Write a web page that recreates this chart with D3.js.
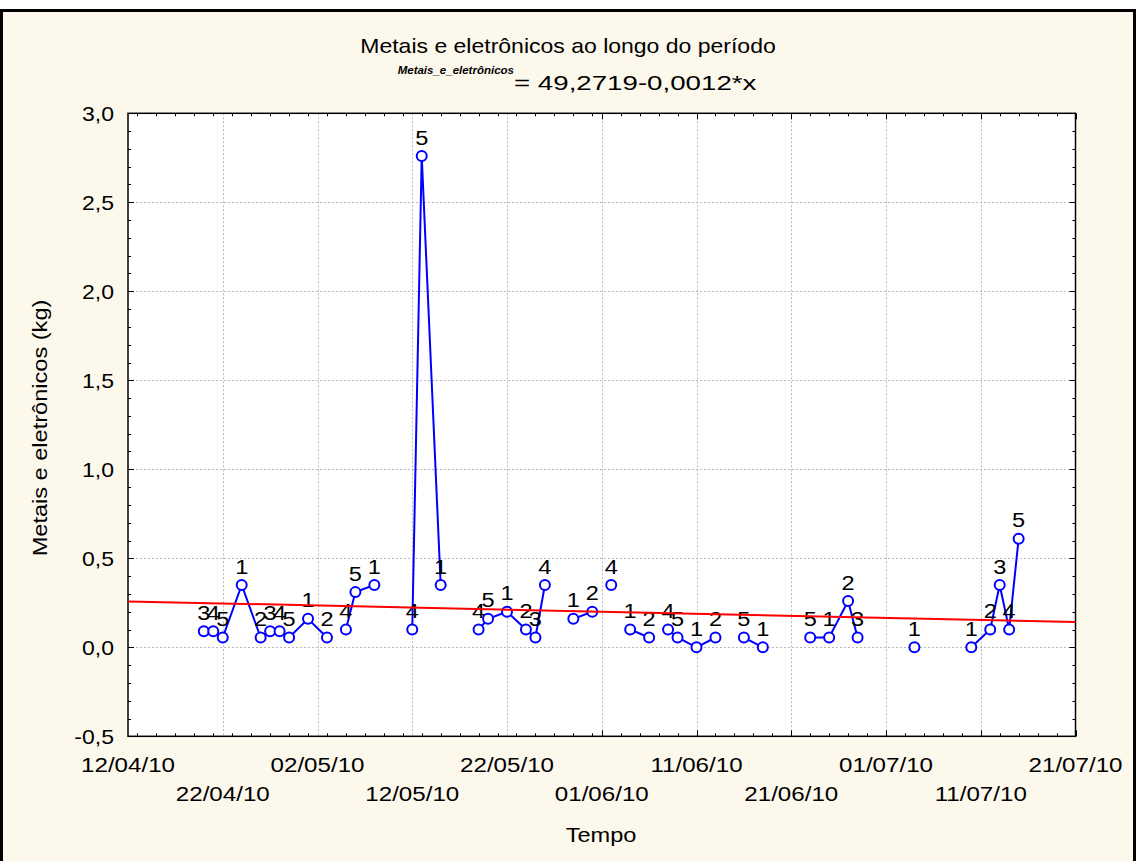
<!DOCTYPE html>
<html>
<head>
<meta charset="utf-8">
<script src="https://cdn.jsdelivr.net/npm/d3@7"></script>
<style>
  html, body { margin: 0; padding: 0; background: #ffffff; }
  svg { display: block; }
  text { font-family: "Liberation Sans", Arial, sans-serif; fill: #000; }
</style>
</head>
<body>
<svg id="chart" width="1136" height="861"></svg>
<script>
// ---------------- data ----------------
const titleText = "Metais e eletrônicos ao longo do período";
const eqVarName = "Metais_e_eletrônicos";
const eqText = "= 49,2719-0,0012*x";
const xAxisTitle = "Tempo";
const yAxisTitle = "Metais e eletrônicos (kg)";

// observation dates (dd/mm/yy)
const dates = [
  "20/04/10","21/04/10","22/04/10","24/04/10","26/04/10","27/04/10","28/04/10","29/04/10","01/05/10","03/05/10",
  "05/05/10","06/05/10","08/05/10",
  "12/05/10","13/05/10","15/05/10",
  "19/05/10","20/05/10","22/05/10","24/05/10","25/05/10","26/05/10",
  "29/05/10","31/05/10",
  "02/06/10",
  "04/06/10","06/06/10",
  "08/06/10","09/06/10","11/06/10","13/06/10",
  "16/06/10","18/06/10",
  "23/06/10","25/06/10","27/06/10","28/06/10",
  "04/07/10",
  "10/07/10","12/07/10","13/07/10","14/07/10","15/07/10"
];
// mass (kg)
const values = [
  0.09,0.09,0.055,0.35,0.055,0.09,0.09,0.055,0.16,0.055,
  0.10,0.31,0.35,
  0.10,2.76,0.35,
  0.10,0.16,0.20,0.10,0.055,0.35,
  0.16,0.20,
  0.35,
  0.10,0.055,
  0.10,0.055,0.0,0.055,
  0.055,0.0,
  0.055,0.055,0.26,0.055,
  0.0,
  0.0,0.10,0.35,0.10,0.61
];
// point labels
const pointLabels = [
  "3","4","5","1","2","3","4","5","1","2",
  "4","5","1",
  "4","5","1",
  "4","5","1","2","3","4",
  "1","2",
  "4",
  "1","2",
  "4","5","1","2",
  "5","1",
  "5","1","2","3",
  "1",
  "1","2","3","4","5"
];
// connected runs (line breaks where observations are missing)
const runs = [
  0,0,0,0,0,0,0,0,0,0,
  1,1,1,
  2,2,2,
  3,3,3,3,3,3,
  4,4,
  5,
  6,6,
  7,7,7,7,
  8,8,
  9,9,9,9,
  10,
  11,11,11,11,11
];
// fitted regression line values at the axis start / end
const fitDates = ["12/04/10","21/07/10"];
const fitValues = [0.258, 0.142];

const xTickLabels = ["12/04/10","22/04/10","02/05/10","12/05/10","22/05/10","01/06/10",
                     "11/06/10","21/06/10","01/07/10","11/07/10","21/07/10"];
const yTickValues = [-0.5,0.0,0.5,1.0,1.5,2.0,2.5,3.0];

// ---------------- layout ----------------
const W = 1136, H = 861;
const plot = {left: 128, right: 1075.5, top: 113.3, bottom: 736.3};
const SX = 1.15; // horizontal stretch of the original glyphs

const parse = d3.timeParse("%d/%m/%y");
const svg = d3.select("#chart");

// outer frame
svg.append("rect").attr("x", 1.5).attr("y", 10.5).attr("width", W - 3).attr("height", H + 10)
  .attr("fill", "#fdf8ec").attr("stroke", "#000").attr("stroke-width", 3);

const x = d3.scaleTime()
  .domain([parse(xTickLabels[0]), parse(xTickLabels[xTickLabels.length - 1])])
  .range([plot.left, plot.right]);
const y = d3.scaleLinear().domain([-0.5, 3.0]).range([plot.bottom, plot.top]);

function addText(parent, px, py, str, o) {
  o = o || {};
  const sx = o.sx == null ? SX : o.sx;
  let tr = `translate(${px},${py})`;
  if (o.rotate) tr += ` rotate(${o.rotate})`;
  tr += ` scale(${sx},1)`;
  const t = parent.append("text").attr("transform", tr)
    .attr("text-anchor", o.anchor || "middle")
    .style("font-size", (o.size || 20) + "px")
    .text(str);
  if (o.weight) t.style("font-weight", o.weight);
  if (o.style) t.style("font-style", o.style);
  if (o.fill) t.style("fill", o.fill);
  return t;
}

// plot background
svg.append("rect").attr("x", plot.left).attr("y", plot.top)
  .attr("width", plot.right - plot.left).attr("height", plot.bottom - plot.top)
  .attr("fill", "#ffffff");

// grid
const grid = svg.append("g").attr("stroke", "#b8b8b8").attr("stroke-width", 1).attr("stroke-dasharray", "2,2");
xTickLabels.slice(1, -1).forEach(s => {
  const gx = Math.round(x(parse(s))) + 0.5;
  grid.append("line").attr("x1", gx).attr("x2", gx).attr("y1", plot.top).attr("y2", plot.bottom);
});
yTickValues.slice(1, -1).forEach(v => {
  const gy = Math.round(y(v)) + 0.5;
  grid.append("line").attr("x1", plot.left).attr("x2", plot.right).attr("y1", gy).attr("y2", gy);
});

// ticks on all four sides (inside)
const ticks = svg.append("g").attr("stroke", "#000").attr("stroke-width", 1);
const minorX = d3.timeDay.every(2).range(x.domain()[0], d3.timeDay.offset(x.domain()[1], 1));
minorX.forEach(d => {
  const tx = Math.round(x(d)) + 0.5;
  const major = xTickLabels.some(s => +parse(s) === +d);
  const len = major ? 6 : 3;
  ticks.append("line").attr("x1", tx).attr("x2", tx).attr("y1", plot.bottom).attr("y2", plot.bottom - len);
  ticks.append("line").attr("x1", tx).attr("x2", tx).attr("y1", plot.top).attr("y2", plot.top + len);
});
d3.range(-5, 31).forEach(i => {
  const v = i / 10;
  const ty = Math.round(y(v)) + 0.5;
  const len = (i % 5 === 0) ? 6 : 3;
  ticks.append("line").attr("x1", plot.left).attr("x2", plot.left + len).attr("y1", ty).attr("y2", ty);
  ticks.append("line").attr("x1", plot.right).attr("x2", plot.right - len).attr("y1", ty).attr("y2", ty);
});

// plot frame
svg.append("rect").attr("x", plot.left).attr("y", plot.top)
  .attr("width", plot.right - plot.left).attr("height", plot.bottom - plot.top)
  .attr("fill", "none").attr("stroke", "#000").attr("stroke-width", 1.5);

// tick labels
const yFmt = v => d3.format(".1f")(v).replace(".", ",").replace("−", "-");
yTickValues.forEach(v => addText(svg, 114, y(v) + 7.5, yFmt(v), {size: 20, anchor: "end"}));
xTickLabels.forEach((s, i) => {
  addText(svg, x(parse(s)), i % 2 === 0 ? 772 : 801, s, {size: 21});
});

// axis titles
addText(svg, 601, 842, xAxisTitle, {size: 20.5});
addText(svg, 47, 428, yAxisTitle, {size: 20.5, rotate: -90});

// title + equation
addText(svg, 568, 53, titleText, {size: 20});
addText(svg, 514, 74, eqVarName, {size: 11.5, anchor: "end", weight: "bold", style: "italic", sx: 1.0});
addText(svg, 514, 90, eqText, {size: 19.5, anchor: "start", sx: 1.42});

// data
const pts = dates.map((d, i) => ({date: parse(d), value: values[i], label: pointLabels[i], run: runs[i]}));
const line = d3.line().x(d => x(d.date)).y(d => y(d.value));
const byRun = d3.group(pts, d => d.run);
const dataG = svg.append("g");
byRun.forEach(arr => {
  if (arr.length > 1) {
    dataG.append("path").attr("d", line(arr)).attr("fill", "none")
      .attr("stroke", "#0000ff").attr("stroke-width", 2);
  }
});
dataG.selectAll("circle").data(pts).join("circle")
  .attr("cx", d => x(d.date)).attr("cy", d => y(d.value)).attr("r", 5)
  .attr("fill", "#ffffff").attr("stroke", "#0000ff").attr("stroke-width", 2);
pts.forEach(d => addText(dataG, x(d.date), y(d.value) - 11.5, d.label, {size: 20.5}));

// regression line
const fit = fitDates.map((d, i) => ({date: parse(d), value: fitValues[i]}));
svg.append("path").attr("d", line(fit)).attr("fill", "none")
  .attr("stroke", "#ff0000").attr("stroke-width", 2);
</script>
</body>
</html>
